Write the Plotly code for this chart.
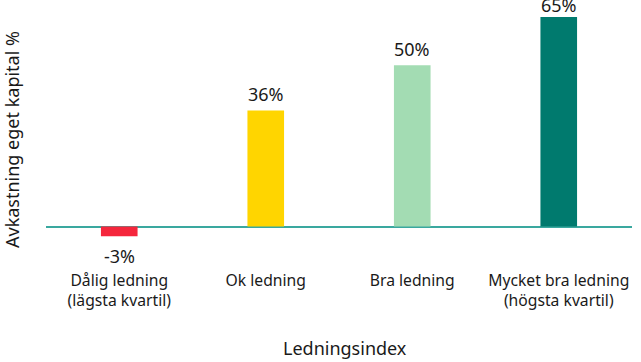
import plotly.graph_objects as go

categories = ["Dålig ledning<br>(lägsta kvartil)", "Ok ledning", "Bra ledning", "Mycket bra ledning<br>(högsta kvartil)"]
values = [-3, 36, 50, 65]
labels = ["-3%", "36%", "50%", "65%"]
colors = ["#f5263c", "#ffd500", "#a3dcb3", "#007a6e"]

FONT = "Noto Sans, Open Sans, sans-serif"
TXT = "#1a1a1a"

L, R, T, B = 46, 9, 17, 100
W, H = 641, 362
pw, ph = W - L - R, H - T - B


def px(fx):
    return (fx - L) / pw


def py(fy):
    return (H - B - fy) / ph


fig = go.Figure(go.Bar(
    x=categories, y=values,
    marker=dict(color=colors, line=dict(width=0)),
    width=0.25, cliponaxis=False, hoverinfo="skip",
))

vmax = max(values)
annotations = []
for c, v, t in zip(categories, values, labels):
    if v >= 0:
        shift = -2 if v == vmax else 2
    else:
        shift = -6
    annotations.append(dict(
        x=c, y=v, xref="x", yref="y", text=t, showarrow=False,
        xanchor="center", yanchor="bottom" if v >= 0 else "top",
        yshift=shift,
        font=dict(family=FONT, size=18, color=TXT),
    ))

annotations += [
    dict(text="Avkastning eget kapital %", textangle=-90,
         x=px(12), y=py(140), xref="paper", yref="paper",
         xanchor="center", yanchor="middle", showarrow=False,
         font=dict(family=FONT, size=18, color=TXT)),
    dict(text="Ledningsindex", x=px(345), y=py(348),
         xref="paper", yref="paper", xanchor="center", yanchor="middle",
         showarrow=False,
         font=dict(family=FONT, size=18, color=TXT)),
]

fig.update_layout(
    width=W, height=H,
    margin=dict(l=L, r=R, t=T, b=B, autoexpand=False),
    plot_bgcolor="white", paper_bgcolor="white",
    showlegend=False,
    font=dict(family=FONT, size=15, color=TXT),
    xaxis=dict(showgrid=False, showline=False, ticks="", automargin=False,
               tickfont=dict(family=FONT, size=15.7, color=TXT),
               ticklabelstandoff=7,
               range=[-0.5, 3.5]),
    yaxis=dict(range=[-11, 65], showgrid=False, showticklabels=False, ticks="",
               automargin=False,
               zeroline=True, zerolinecolor="#3aa89f", zerolinewidth=1.5),
    annotations=annotations,
)

fig.write_html("out.html", config={"displayModeBar": False},
               post_script="document.body.style.margin='0';")
